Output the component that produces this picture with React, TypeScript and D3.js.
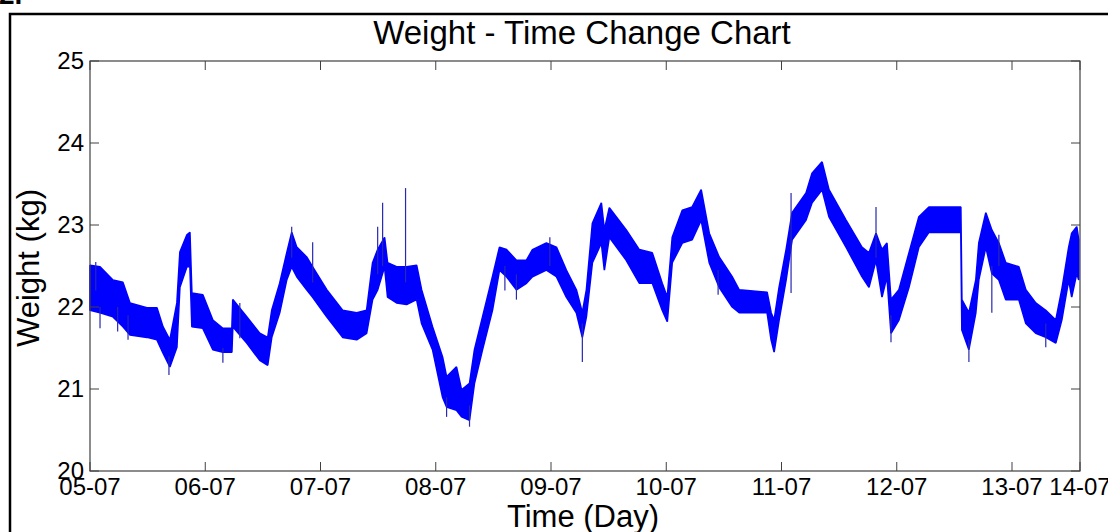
import * as d3 from "d3";

// time in days from 05-07 00:00, weight band (kg)
const tDays = [
  0.0, 0.087, 0.199, 0.286, 0.347, 0.494, 0.581, 0.633, 0.693, 0.754, 0.78, 0.841, 0.867, 0.884,
  0.979, 1.066, 1.153, 1.231, 1.239, 1.36, 1.473, 1.542, 1.577, 1.646, 1.707, 1.75, 1.794, 1.88,
  1.932, 2.054, 2.192, 2.314, 2.4, 2.452, 2.496, 2.556, 2.582, 2.66, 2.747, 2.834, 2.877, 2.972,
  3.059, 3.094, 3.18, 3.224, 3.293, 3.336, 3.406, 3.492, 3.553, 3.614, 3.7, 3.787, 3.839, 3.96,
  4.047, 4.133, 4.22, 4.272, 4.307, 4.359, 4.437, 4.463, 4.506, 4.653, 4.766, 4.879, 4.965, 5.009,
  5.052, 5.139, 5.225, 5.303, 5.373, 5.459, 5.572, 5.633, 5.875, 5.91, 5.936, 5.979, 6.04, 6.092,
  6.213, 6.265, 6.352, 6.412, 6.56, 6.698, 6.759, 6.82, 6.872, 6.915, 6.95, 7.019, 7.106, 7.192,
  7.279, 7.556, 7.565, 7.626, 7.686, 7.712, 7.773, 7.825, 7.886, 7.946, 8.059, 8.12, 8.206, 8.293,
  8.38, 8.432, 8.492, 8.518, 8.562, 8.579,
];
const hiKg = [
  22.51, 22.49, 22.33, 22.3, 22.05, 21.99, 21.99, 21.76, 21.6, 22.05, 22.67, 22.88, 22.91, 22.17,
  22.15, 21.84, 21.74, 21.74, 22.09, 21.88, 21.68, 21.63, 21.96, 22.29, 22.66, 22.91, 22.73, 22.61,
  22.49, 22.21, 21.96, 21.93, 21.96, 22.54, 22.7, 22.85, 22.54, 22.49, 22.49, 22.51, 22.21, 21.76,
  21.39, 21.15, 21.27, 20.99, 21.07, 21.48, 21.88, 22.37, 22.73, 22.7, 22.57, 22.57, 22.7, 22.78,
  22.73, 22.45, 22.21, 21.93, 22.21, 23.02, 23.27, 22.94, 23.21, 22.94, 22.7, 22.66, 22.29, 22.12,
  22.85, 23.18, 23.22, 23.43, 22.9, 22.61, 22.37, 22.21, 22.18, 21.93, 21.84, 22.24, 22.7, 23.15,
  23.39, 23.63, 23.77, 23.43, 23.06, 22.73, 22.66, 22.9, 22.7, 22.78, 22.09, 22.21, 22.66, 23.1,
  23.22, 23.22, 22.09, 21.93, 22.33, 22.78, 23.15, 22.94, 22.78, 22.54, 22.49, 22.21, 22.05, 21.96,
  21.84, 22.21, 22.73, 22.9, 22.98, 22.82,
];
const loKg = [
  21.96, 21.93, 21.88, 21.76, 21.66, 21.63, 21.6, 21.44, 21.27, 21.51, 22.24, 22.49, 22.49, 21.76,
  21.74, 21.48, 21.45, 21.45, 21.76, 21.56, 21.35, 21.29, 21.63, 21.93, 22.33, 22.49, 22.37, 22.21,
  22.12, 21.88, 21.63, 21.6, 21.68, 22.09, 22.21, 22.49, 22.12, 22.05, 22.03, 22.09, 21.8, 21.48,
  20.9, 20.78, 20.74, 20.66, 20.62, 21.07, 21.48, 21.96, 22.45, 22.37, 22.21, 22.29, 22.37, 22.45,
  22.37, 22.12, 21.93, 21.63, 21.88, 22.54, 22.78, 22.45, 22.85, 22.57, 22.29, 22.29, 21.96, 21.82,
  22.54, 22.78, 22.82, 23.06, 22.54, 22.24, 22.0, 21.93, 21.93, 21.6, 21.45, 21.84, 22.33, 22.82,
  23.06, 23.27, 23.43, 23.1, 22.73, 22.37, 22.24, 22.57, 22.12, 22.37, 21.68, 21.84, 22.24, 22.73,
  22.91, 22.91, 21.72, 21.48, 21.93, 22.33, 22.73, 22.41, 22.33, 22.09, 22.09, 21.8, 21.68, 21.63,
  21.56, 21.84, 22.33, 22.12, 22.41, 22.33,
];

// single readings that stick out of the band
const spikeT = [0.05, 0.087, 0.24, 0.33, 0.685, 1.153, 1.3, 1.75, 1.932, 2.496, 2.539, 2.738, 3.094, 3.293, 3.6, 3.7, 3.99, 4.272, 5.45, 6.083, 6.82, 6.95, 7.626, 7.825, 7.886, 8.293];
const spikeLo = [22.2, 21.74, 21.7, 21.6, 21.17, 21.32, 21.62, 22.6, 22.3, 22.4, 22.5, 22.3, 20.66, 20.54, 22.2, 22.09, 22.5, 21.33, 22.15, 22.17, 22.6, 21.57, 21.33, 21.93, 22.5, 21.51];
const spikeHi = [22.55, 22.0, 22.0, 21.9, 21.4, 21.5, 22.05, 22.98, 22.79, 22.98, 23.27, 23.45, 20.9, 20.8, 22.5, 22.4, 22.85, 21.8, 22.45, 23.39, 23.22, 21.9, 21.6, 22.5, 22.88, 21.8];

const dayLabels = ["05-07", "06-07", "07-07", "08-07", "09-07", "10-07", "11-07", "12-07", "13-07", "14-07"];
const yTicks = [20, 21, 22, 23, 24, 25];

const W = 1108;
const H = 532;
const plot = { left: 90, right: 1080, top: 61, bottom: 471 };
const xMax = 8.59;
const font = "'Liberation Sans', Arial, sans-serif";
const axisColor = "#404040";

export default function App() {
  const x = d3.scaleLinear().domain([0, xMax]).range([plot.left, plot.right]);
  const y = d3.scaleLinear().domain([20, 25]).range([plot.bottom, plot.top]);

  const idx = d3.range(tDays.length);
  const band = d3
    .area<number>()
    .x((i) => x(tDays[i]))
    .y0((i) => y(loKg[i]))
    .y1((i) => y(hiKg[i]))(idx) as string;

  // last label sits on the right end of the axis
  const xTickPos = dayLabels.map((_, i) => (i < dayLabels.length - 1 ? i : xMax));
  const tl = 9;

  return (
    <svg width={W} height={H} style={{ position: "absolute", left: 0, top: 0, background: "#fff" }} fontFamily={font}>
      <rect x={0} y={0} width={W} height={H} fill="#fff" />
      <text x={-1} y={4} fontSize={28} fontWeight="bold" fill="#000">2.</text>
      <rect x={10} y={14} width={1200} height={700} fill="none" stroke="#000" strokeWidth={2.5} />

      <text x={582} y={44} fontSize={33} textAnchor="middle" fill="#000">
        Weight - Time Change Chart
      </text>

      <path d={band} fill="#0000ff" stroke="#0000ff" strokeWidth={1.6} strokeLinejoin="bevel" />
      {spikeT.map((t, i) => (
        <line key={i} x1={x(t)} x2={x(t)} y1={y(spikeLo[i])} y2={y(spikeHi[i])} stroke="#2828b0" strokeWidth={1.2} />
      ))}

      <rect x={plot.left} y={plot.top} width={plot.right - plot.left} height={plot.bottom - plot.top}
        fill="none" stroke={axisColor} strokeWidth={1.2} />

      {xTickPos.map((t, i) => (
        <g key={i}>
          <line x1={x(t)} x2={x(t)} y1={plot.bottom} y2={plot.bottom - tl} stroke={axisColor} />
          <line x1={x(t)} x2={x(t)} y1={plot.top} y2={plot.top + tl} stroke={axisColor} />
          <text x={x(t)} y={495} fontSize={24} textAnchor="middle" fill="#000">{dayLabels[i]}</text>
        </g>
      ))}

      {yTicks.map((v) => (
        <g key={v}>
          <line x1={plot.left} x2={plot.left + tl} y1={y(v)} y2={y(v)} stroke={axisColor} />
          <line x1={plot.right} x2={plot.right - tl} y1={y(v)} y2={y(v)} stroke={axisColor} />
          <text x={84} y={y(v)} dy="0.35em" fontSize={24} textAnchor="end" fill="#000">{v}</text>
        </g>
      ))}

      <text x={583} y={527} fontSize={31} textAnchor="middle" fill="#000">Time (Day)</text>
      <text transform={`translate(39, 268) rotate(-90)`} fontSize={31} textAnchor="middle" fill="#000">
        Weight (kg)
      </text>
    </svg>
  );
}
